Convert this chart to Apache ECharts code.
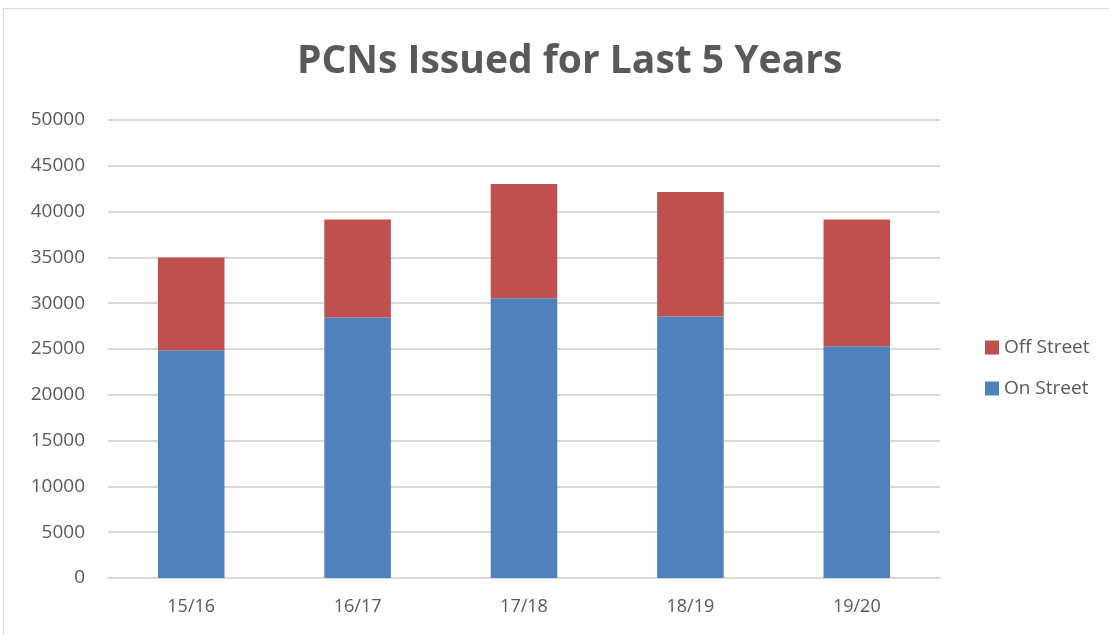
<!DOCTYPE html>
<html lang="en">
<head>
    <meta charset="UTF-8">
    <title>PCNs</title>
    <script src="https://cdn.jsdelivr.net/npm/echarts@6/dist/echarts.min.js"></script>
    <style>
        html, body { margin: 0; padding: 0; background: #fff; }
        #chart { width: 1109px; height: 635px; }
    </style>
</head>
<body>
<div id="chart"></div>
<script>
    // data
    var years = ['15/16', '16/17', '17/18', '18/19', '19/20'];
    var onStreet = [24850, 28450, 30550, 28550, 25300];
    var offStreet = [10150, 10700, 12450, 13600, 13850];

    var chart = echarts.init(document.getElementById('chart'));
    chart.setOption({
        animation: false,
        title: {
            text: 'PCNs Issued for Last 5 Years',
            left: 292,
            top: 37,
            textStyle: {fontFamily: 'Open Sans', fontSize: 39, fontWeight: 'bold', color: '#595959'}
        },
        graphic: [{
            type: 'rect',
            shape: {x: 3.5, y: 8.5, width: 1200, height: 700},
            style: {fill: 'none', stroke: '#d9d9d9', lineWidth: 1}
        }],
        legend: {
            data: ['Off Street', 'On Street'],
            orient: 'vertical',
            left: 980,
            top: 333,
            itemWidth: 14,
            itemHeight: 14,
            itemGap: 22,
            icon: 'rect',
            textStyle: {fontFamily: 'Open Sans', fontSize: 19, color: '#595959'}
        },
        grid: {left: 108, right: 169, top: 120, bottom: 57},
        xAxis: {
            type: 'category',
            data: years,
            axisLine: {lineStyle: {color: '#d9d9d9', width: 2}},
            axisTick: {show: false},
            axisLabel: {fontFamily: 'Open Sans', fontSize: 18, color: '#595959', margin: 20}
        },
        yAxis: {
            type: 'value',
            min: 0,
            max: 50000,
            interval: 5000,
            axisLine: {show: false},
            axisTick: {show: false},
            splitLine: {lineStyle: {color: '#d9d9d9', width: 2}},
            axisLabel: {
                fontFamily: 'Open Sans', fontSize: 19, color: '#595959', margin: 23,
                formatter: function (v) { return String(v); }
            }
        },
        series: [
            {
                name: 'On Street',
                type: 'bar',
                stack: 'pcn',
                barWidth: '40%',
                itemStyle: {color: '#4f81bd'},
                data: onStreet
            },
            {
                name: 'Off Street',
                type: 'bar',
                stack: 'pcn',
                itemStyle: {color: '#c0504d'},
                data: offStreet
            }
        ]
    });
</script>
</body>
</html>
